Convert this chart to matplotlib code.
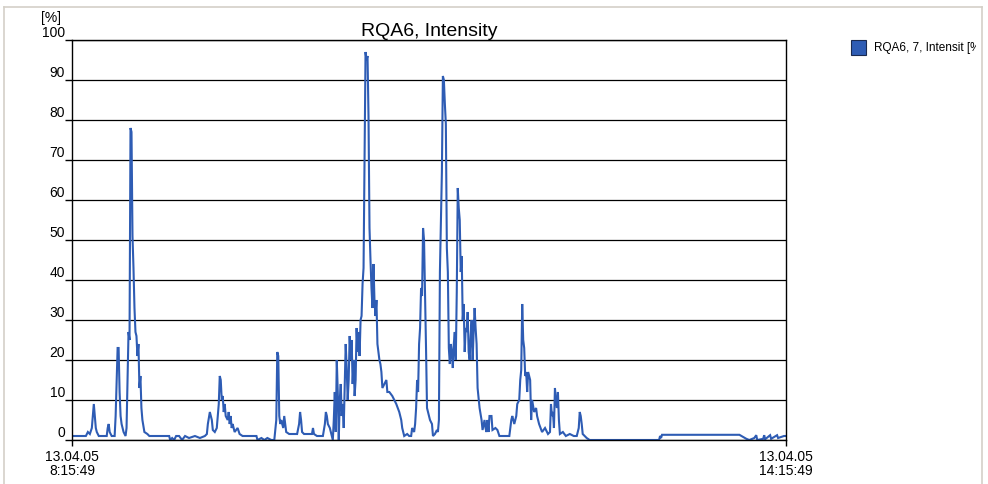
import datetime as dt
import matplotlib
matplotlib.use('Agg')
import matplotlib.pyplot as plt
import matplotlib.dates as mdates
from matplotlib.patches import Rectangle
from matplotlib.lines import Line2D
from matplotlib.transforms import Bbox, TransformedBbox

# Datos: número de muestra (cada 30 s desde el inicio) e intensidad en %
start = dt.datetime(2005, 4, 13, 8, 15, 49)
sample_step_s = 30
samples = [
    0, 14, 16, 18, 20, 21, 22, 23, 24, 25, 27, 35, 36, 37, 38, 40, 43, 44, 45, 46,
    47, 48, 49, 50, 52, 54, 55, 56, 57, 58, 59, 60, 61, 62, 63, 64, 65, 66, 67, 68,
    69, 70, 71, 73, 76, 78, 98, 99, 101, 103, 105, 108, 111, 114, 118,
    124, 129, 134, 136, 137, 139, 141, 142, 144, 146, 148, 149, 150, 151, 152, 153,
    154, 155, 157, 158, 159, 160, 161, 162, 164, 167, 169, 172, 186, 187, 191, 194,
    197, 201, 204, 206, 207, 208, 209, 210, 211, 213, 214, 215, 216, 219, 227, 229,
    230, 231, 232, 234,
    242, 243, 244, 247, 253, 255, 256, 257, 258, 260, 262, 263, 264, 265, 266, 267,
    268, 269, 270, 271, 272, 273, 274, 275, 276, 277, 278, 279, 280, 281, 282, 283,
    284, 285, 286, 287, 288, 289, 290, 291, 292, 293, 294, 295, 296, 297, 298, 299,
    300, 301, 302, 303, 304, 305, 306, 307, 308, 309, 310, 311, 312, 313, 315, 317,
    318, 320, 323, 325, 327, 330, 332, 333, 335, 338, 340, 342, 343, 345, 346, 347,
    348, 349, 350, 351, 352, 353, 354, 355, 356, 357, 358,
    360, 361, 363, 364, 366, 368, 369, 370, 371, 372, 373, 374, 375, 376, 377, 378,
    379, 380, 381, 382, 383, 384, 385, 386, 387, 388, 389, 390, 391, 392, 393, 394,
    395, 396, 397, 398, 399, 400, 401, 402, 403, 404, 405, 406, 407, 408, 409, 411,
    413, 414, 416, 417, 418, 419, 420, 421, 423, 424, 427, 429, 431, 441, 443, 444,
    446, 448, 449, 451, 452, 453, 454, 455, 456, 457, 458, 459, 460, 462, 463, 464,
    466, 468, 469, 471, 474, 477,
    480, 482, 483, 484, 485, 486, 487, 488, 489, 490, 491, 492, 495, 498, 502, 506,
    509, 511, 512, 513, 514, 515, 517, 519, 522, 592, 593, 594, 595,
    673, 678, 680, 683, 688, 690, 691, 697, 698, 699, 704, 705, 711, 712, 718, 720,
]
intensity = [
    1, 1, 2, 1.5, 3, 6, 9, 6, 3, 2, 1, 1, 3, 4, 2, 1, 1, 6, 15, 23,
    23, 12, 6, 4, 2, 1, 3, 15, 27, 25, 78, 77, 51, 43, 33, 27, 26, 21, 24, 13,
    16, 8, 5, 2, 1.5, 1, 1, 0, 0.5, 0, 1, 1, 0, 1, 0.5,
    1, 0.5, 1, 1.5, 4, 7, 5, 2.5, 2, 3, 9, 16, 15, 10, 11, 7,
    9, 6, 5, 7, 4, 6, 3, 4, 2, 3, 1.5, 1, 1, 0, 0.5, 0,
    0.5, 0, 0, 5, 22, 21, 6, 4, 5, 3, 6, 4, 2, 1.5, 1.5, 4,
    7, 5, 2, 1.5,
    1.5, 3, 1.5, 1, 1, 4, 7, 6, 4, 3, 1, 0, 5, 12, 2, 20,
    12, 0, 10, 14, 6, 9, 3, 14, 24, 18, 10, 15, 26, 20, 25, 14,
    20, 11, 15, 28, 22, 27, 21, 30, 31, 39, 43, 71, 97, 95, 96, 81,
    53, 45, 38, 33, 44, 35, 31, 35, 24, 22, 20, 19, 17, 13, 14, 15,
    12, 12, 11, 10, 9, 7, 5, 3, 1, 1.5, 1, 1, 3, 2, 4, 8,
    15, 12, 24, 28, 38, 36, 53, 50, 37, 23, 8,
    6, 5, 4, 1, 1.5, 2.5, 2, 5, 42, 55, 67, 91, 90, 84, 79, 48,
    42, 23, 19, 24, 22, 18, 24, 27, 20, 37, 63, 58, 55, 42, 46, 30,
    34, 22, 28, 27, 32, 22, 20, 26, 30, 20, 27, 33, 28, 24, 13, 8,
    5, 2.5, 5, 3, 2, 5, 2, 6, 6, 2.5, 3, 2.5, 1, 1, 5, 6,
    4, 6, 9, 10, 15, 17.5, 34, 25, 23, 16, 17, 12, 17, 15, 5, 10,
    7, 8, 6, 4, 2, 3,
    1.5, 2, 9, 6, 7, 3, 13, 10, 8, 12, 5, 1.5, 2, 1, 1.5, 1,
    1, 3, 7, 6, 4, 1.5, 1, 0.5, 0, 0, 1, 0.5, 1.3,
    1.3, 0.6, 0.3, 0, 0.5, 1.2, 0, 0.3, 1.2, 0.2, 1.2, 0.3, 1.2, 0.5, 1, 1,
]
y_ticks = list(range(0, 101, 10))
x_tick_labels = ['13.04.05\n8:15:49', '13.04.05\n14:15:49']
title = 'RQA6, Intensity'
series_name = 'RQA6, 7, Intensit [%]'
line_color = '#2E5CB4'

times = [start + dt.timedelta(seconds=s * sample_step_s) for s in samples]
end = start + dt.timedelta(hours=6)

plt.rcParams['font.family'] = ['Liberation Sans', 'DejaVu Sans']

fig = plt.figure(figsize=(9.88, 4.84), dpi=100)
ax = fig.add_axes([72 / 988, 44 / 484, 714 / 988, 400 / 484])

ax.plot(times, intensity, color=line_color, linewidth=1.5, solid_joinstyle='miter')

ax.set_xlim(start, end)
ax.set_ylim(0, 100)
ax.set_yticks(y_ticks)
ax.set_yticklabels([str(v) for v in y_ticks], fontsize=10)
for lab in ax.get_yticklabels():
    lab.set_va('bottom')
ax.tick_params(axis='y', length=5, width=1, pad=0, colors='black')
ax.set_xticks([mdates.date2num(start), mdates.date2num(end)])
ax.set_xticklabels(x_tick_labels, fontsize=10, linespacing=1.0)
ax.tick_params(axis='x', length=4, width=1, pad=3)
ax.grid(axis='y', color='black', linewidth=0.9)
ax.set_axisbelow(True)
for sp in ax.spines.values():
    sp.set_color('black')
    sp.set_linewidth(1)

ax.set_title(title, fontsize=14, pad=2)
ax.annotate('[%]', xy=(0, 1), xycoords='axes fraction', xytext=(-15, 11),
            textcoords='offset points', ha='center', va='bottom', fontsize=10)

# Marco gris alrededor de la figura
frame_color = '#D4D0C8'
fig.add_artist(Line2D([4 / 988, 4 / 988], [0, 1 - 7 / 484], color=frame_color, lw=1.2,
                      transform=fig.transFigure))
fig.add_artist(Line2D([4 / 988, 982 / 988], [1 - 7 / 484, 1 - 7 / 484], color=frame_color,
                      lw=1.2, transform=fig.transFigure))
fig.add_artist(Line2D([982 / 988, 982 / 988], [0, 1 - 7 / 484], color=frame_color, lw=1.2,
                      transform=fig.transFigure))

# Leyenda manual (texto recortado en el borde derecho)
fig.add_artist(Rectangle((851 / 988, 1 - 55 / 484), 15 / 988, 15 / 484,
                         facecolor=line_color, edgecolor='#1A2A50', lw=0.8,
                         transform=fig.transFigure))
leg = fig.text(874 / 988, 1 - 48 / 484, series_name, fontsize=8.5, va='center', ha='left')
leg.set_clip_box(TransformedBbox(Bbox.from_extents(0, 0, 976 / 988, 1), fig.transFigure))
leg.set_clip_on(True)

fig.savefig('out.png', dpi=100)
